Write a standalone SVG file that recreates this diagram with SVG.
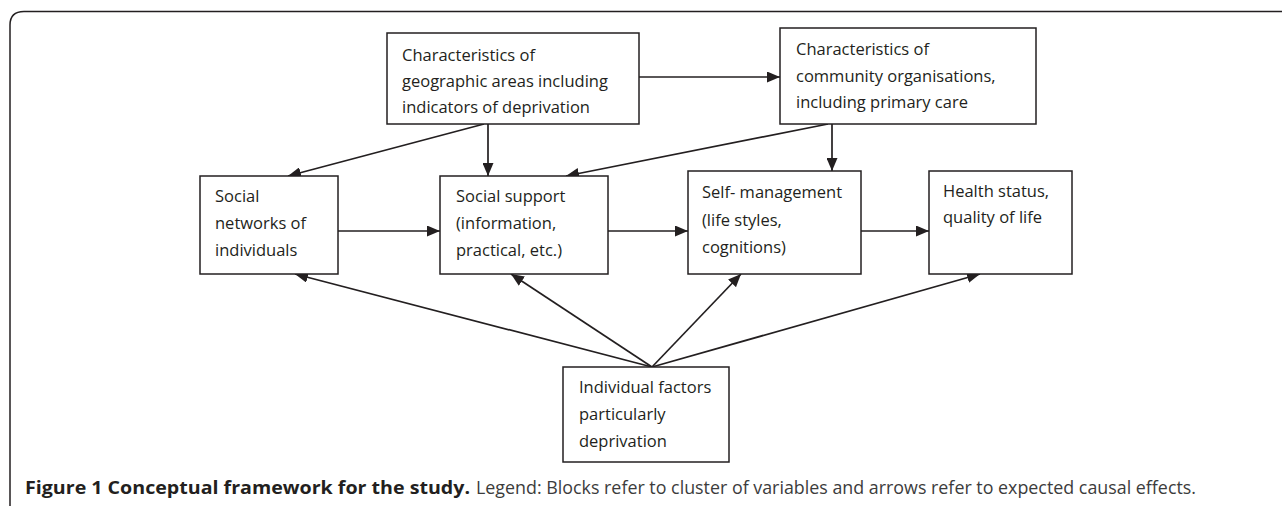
<svg xmlns="http://www.w3.org/2000/svg" width="1282" height="506" viewBox="0 0 1282 506">
<defs>
<marker id="ah" markerUnits="userSpaceOnUse" markerWidth="13" markerHeight="11" refX="13" refY="5.5" orient="auto">
<path d="M0,0 L13,5.5 L0,11 Z" fill="#231f20"/>
</marker>
<style>
.box{fill:#fff;stroke:#231f20;stroke-width:1.5}
.t{font-family:"Open Sans","Liberation Sans",sans-serif;font-size:16.5px;fill:#231f20}
.c{stroke:#231f20;stroke-width:1.7;fill:none;marker-end:url(#ah)}
.cap{font-family:"Open Sans","Liberation Sans",sans-serif;font-size:18px}
</style>
</defs>
<rect width="1282" height="506" fill="#fff"/>
<path d="M10,506 V25 Q10,11.5 24,11.5 H1282" fill="none" stroke="#231f20" stroke-width="1.5"/>
<g id="connectors">
<line class="c" x1="639" y1="77" x2="780" y2="77"/>
<line class="c" x1="484" y1="124" x2="288" y2="176"/>
<line class="c" x1="488" y1="124" x2="488" y2="176"/>
<line class="c" x1="828" y1="124" x2="566" y2="176"/>
<line class="c" x1="832" y1="124" x2="832" y2="171"/>
<line class="c" x1="338" y1="231" x2="440" y2="231"/>
<line class="c" x1="608" y1="231" x2="688" y2="231"/>
<line class="c" x1="861" y1="231" x2="929" y2="231"/>
<line class="c" x1="652" y1="367" x2="295" y2="274"/>
<line class="c" x1="652" y1="367" x2="511" y2="274"/>
<line class="c" x1="652" y1="367" x2="741" y2="274"/>
<line class="c" x1="652" y1="367" x2="980" y2="274"/>
</g>
<g id="geo">
<rect class="box" x="387" y="33" width="252" height="91"/>
<text class="t" x="402" y="61">Characteristics of</text>
<text class="t" x="402" y="87">geographic areas including</text>
<text class="t" x="402" y="113">indicators of deprivation</text>
</g>
<g id="community">
<rect class="box" x="780" y="28" width="256" height="96"/>
<text class="t" x="796" y="55">Characteristics of</text>
<text class="t" x="796" y="82">community organisations,</text>
<text class="t" x="796" y="108">including primary care</text>
</g>
<g id="networks">
<rect class="box" x="200" y="176" width="138" height="98"/>
<text class="t" x="215" y="202">Social</text>
<text class="t" x="215" y="229">networks of</text>
<text class="t" x="215" y="256">individuals</text>
</g>
<g id="support">
<rect class="box" x="440" y="176" width="168" height="98"/>
<text class="t" x="456" y="202">Social support</text>
<text class="t" x="456" y="229">(information,</text>
<text class="t" x="456" y="256">practical, etc.)</text>
</g>
<g id="selfmanagement">
<rect class="box" x="688" y="171" width="173" height="103"/>
<text class="t" x="702" y="198">Self- management</text>
<text class="t" x="702" y="226">(life styles,</text>
<text class="t" x="702" y="253">cognitions)</text>
</g>
<g id="health">
<rect class="box" x="929" y="171" width="143" height="103"/>
<text class="t" x="943" y="197">Health status,</text>
<text class="t" x="943" y="223">quality of life</text>
</g>
<g id="individual">
<rect class="box" x="563" y="367" width="166" height="95"/>
<text class="t" x="579" y="393">Individual factors</text>
<text class="t" x="579" y="420">particularly</text>
<text class="t" x="579" y="447">deprivation</text>
</g>
<text class="cap" x="25" y="494" font-weight="bold" fill="#231f20" textLength="445" lengthAdjust="spacingAndGlyphs">Figure 1 Conceptual framework for the study.</text>
<text class="cap" x="476" y="494" fill="#3c3c3c" textLength="720" lengthAdjust="spacingAndGlyphs">Legend: Blocks refer to cluster of variables and arrows refer to expected causal effects.</text>
</svg>
